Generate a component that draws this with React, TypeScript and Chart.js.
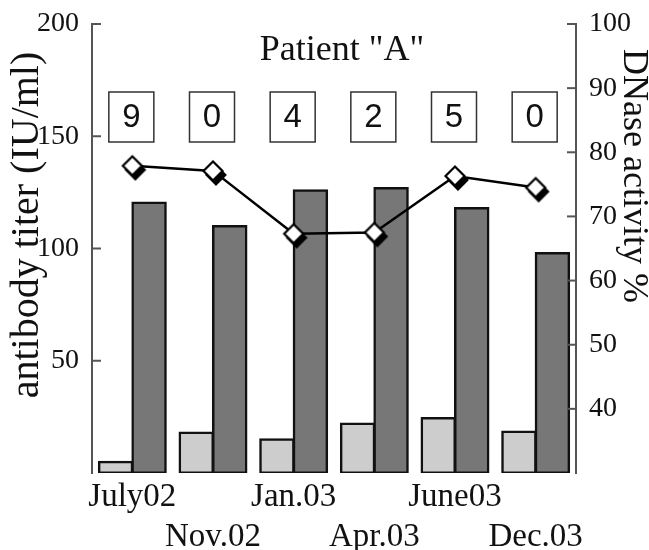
import { useEffect, useRef } from 'react';
import { Chart, registerables } from 'chart.js';

Chart.register(...registerables);

const categories = ['July02', 'Nov.02', 'Jan.03', 'Apr.03', 'June03', 'Dec.03'];
const lightBars = [5, 18, 15, 22, 24.5, 18.5];
const darkBars = [120.5, 110, 126, 127, 118, 98];
const dnaseActivity = [77.9, 77.1, 67.3, 67.5, 76.3, 74.5];
const boxCounts = [9, 0, 4, 2, 5, 0];
const leftTicks = [50, 100, 150, 200];
const rightTicks = [40, 50, 60, 70, 80, 90, 100];
const chartTitle = 'Patient "A"';
const leftAxisTitle = 'antibody titer (IU/ml)';
const rightAxisTitle = 'DNase activity %';

const SERIF = "'Liberation Serif', 'Times New Roman', serif";
const SANS = "'Liberation Sans', Arial, sans-serif";

function makeDiamond(): HTMLCanvasElement {
  const c = document.createElement('canvas');
  const s = 32;
  c.width = s;
  c.height = s;
  const ctx = c.getContext('2d')!;
  const cx = s / 2;
  const cy = s / 2;
  const r = 9.5;
  const path = (x: number, y: number) => {
    ctx.beginPath();
    ctx.moveTo(x, y - r);
    ctx.lineTo(x + r, y);
    ctx.lineTo(x, y + r);
    ctx.lineTo(x - r, y);
    ctx.closePath();
  };
  path(cx + 3, cy + 4);
  ctx.fillStyle = '#000';
  ctx.fill();
  ctx.lineWidth = 2;
  ctx.strokeStyle = '#000';
  ctx.stroke();
  path(cx, cy);
  ctx.fillStyle = '#fff';
  ctx.fill();
  ctx.lineWidth = 2.2;
  ctx.strokeStyle = '#000';
  ctx.stroke();
  return c;
}

const decorations = {
  id: 'decorations',
  afterDraw(chart: any) {
    const { ctx, chartArea, scales } = chart;
    const { left, right, top } = chartArea;
    ctx.save();
    // inward tick marks
    ctx.strokeStyle = '#555';
    ctx.lineWidth = 2;
    leftTicks.forEach((v) => {
      const y = scales.y.getPixelForValue(v);
      ctx.beginPath();
      ctx.moveTo(left, y);
      ctx.lineTo(left + 9, y);
      ctx.stroke();
    });
    rightTicks.forEach((v) => {
      const y = scales.y2.getPixelForValue(v);
      ctx.beginPath();
      ctx.moveTo(right - 9, y);
      ctx.lineTo(right, y);
      ctx.stroke();
    });

    // title
    ctx.fillStyle = '#111';
    ctx.font = `36px ${SERIF}`;
    ctx.textAlign = 'center';
    ctx.textBaseline = 'alphabetic';
    ctx.fillText(chartTitle, (left + right) / 2 + 8, top + 36);

    // boxes with counts
    boxCounts.forEach((n, i) => {
      const x = scales.x.getPixelForValue(i) - 1;
      const cy = top + 93;
      ctx.fillStyle = '#fff';
      ctx.fillRect(x - 22.5, cy - 25, 45, 50);
      ctx.strokeStyle = '#333';
      ctx.lineWidth = 1.5;
      ctx.strokeRect(x - 22.5, cy - 25, 45, 50);
      ctx.fillStyle = '#111';
      ctx.font = `33px ${SANS}`;
      ctx.textAlign = 'center';
      ctx.textBaseline = 'middle';
      ctx.fillText(String(n), x, cy + 1);
    });

    // axis titles
    ctx.fillStyle = '#111';
    ctx.textAlign = 'center';
    ctx.textBaseline = 'middle';
    ctx.save();
    ctx.font = `40px ${SERIF}`;
    ctx.translate(left - 65, top + 201);
    ctx.rotate(-Math.PI / 2);
    ctx.fillText(leftAxisTitle, 0, 0);
    ctx.restore();
    ctx.save();
    ctx.font = `36px ${SERIF}`;
    ctx.translate(right + 57, top + 152);
    ctx.rotate(Math.PI / 2);
    ctx.fillText(rightAxisTitle, 0, 0);
    ctx.restore();
    ctx.restore();
  },
};

export default function App() {
  const ref = useRef<HTMLCanvasElement | null>(null);

  useEffect(() => {
    if (!ref.current) return;
    const diamond = makeDiamond();
    const chart = new Chart(ref.current, {
      type: 'bar',
      data: {
        labels: categories,
        datasets: [
          {
            type: 'line',
            label: 'DNase activity %',
            data: dnaseActivity,
            yAxisID: 'y2',
            borderColor: '#000',
            borderWidth: 2.5,
            pointStyle: diamond as any,
            pointRadius: 10,
            tension: 0,
            order: 0,
          } as any,
          {
            label: 'light',
            data: lightBars,
            yAxisID: 'y',
            backgroundColor: '#cdcdcd',
            borderColor: '#111',
            borderWidth: 2.5,
            borderSkipped: false,
            inflateAmount: 1,
            categoryPercentage: 0.83,
            barPercentage: 1,
            order: 1,
          },
          {
            label: 'dark',
            data: darkBars,
            yAxisID: 'y',
            backgroundColor: '#777777',
            borderColor: '#111',
            borderWidth: 2.5,
            borderSkipped: false,
            inflateAmount: 1,
            categoryPercentage: 0.83,
            barPercentage: 1,
            order: 1,
          },
        ],
      },
      options: {
        animation: false,
        responsive: false,
        layout: { padding: { top: 24, left: 0, right: 0, bottom: 0 } },
        plugins: { legend: { display: false }, tooltip: { enabled: false } },
        scales: {
          x: {
            type: 'category',
            grid: { display: false },
            border: { display: false },
            ticks: {
              autoSkip: false,
              maxRotation: 0,
              minRotation: 0,
              padding: -4,
              color: '#111',
              font: { family: SERIF, size: 33, lineHeight: 40 / 33 },
              callback: (_v: any, i: number) =>
                i % 2 === 0 ? [categories[i], ''] : ['', categories[i]],
            },
            afterFit: (s: any) => {
              s.height = 77;
            },
          },
          y: {
            position: 'left',
            min: 0,
            max: 200,
            grid: { display: false },
            border: { display: true, color: '#555', width: 2 },
            ticks: {
              padding: 5,
              color: '#111',
              font: { family: SERIF, size: 28 },
            },
            afterBuildTicks: (s: any) => {
              s.ticks = leftTicks.map((v) => ({ value: v }));
            },
            afterFit: (s: any) => {
              s.width = 92;
            },
          },
          y2: {
            position: 'right',
            min: 30,
            max: 100,
            grid: { display: false },
            border: { display: true, color: '#555', width: 2 },
            ticks: {
              padding: 5,
              color: '#111',
              font: { family: SERIF, size: 28 },
            },
            afterBuildTicks: (s: any) => {
              s.ticks = rightTicks.map((v) => ({ value: v }));
            },
            afterFit: (s: any) => {
              s.width = 73;
            },
          },
        },
      } as any,
      plugins: [decorations],
    });
    return () => chart.destroy();
  }, []);

  return (
    <div style={{ position: 'fixed', left: 0, top: 0, width: 649, height: 550, background: '#fff' }}>
      <canvas ref={ref} width={649} height={550} style={{ display: 'block' }} />
    </div>
  );
}
